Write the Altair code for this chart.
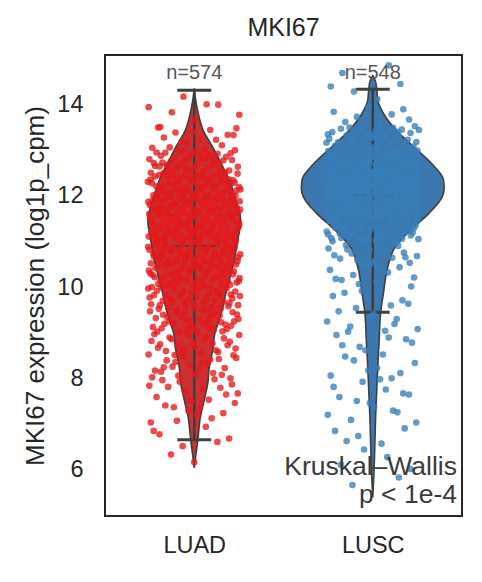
import altair as alt
import pandas as pd

# ---------------- data ----------------
groups = ["LUAD", "LUSC"]
n_counts = [574, 548]
chart_title = "MKI67"
y_title = "MKI67 expression (log1p_cpm)"
stat_lines = ["Kruskal\u2013Wallis", "p < 1e-4"]

# box summary (whisker ends and medians)
whisker_low = [6.66, 9.45]
whisker_high = [14.31, 14.33]
medians = [10.90, 12.01]

# violin outlines: value grid and relative density (1.0 = widest violin)
luad_violin_y = [6.04, 6.3, 6.66, 6.81, 7.1, 7.53, 7.9, 8.25, 8.63, 9.0, 9.28, 9.56,
                 9.85, 10.15, 10.59, 11.03, 11.46, 11.97, 12.34, 12.71, 13.06, 13.43,
                 13.80, 14.1, 14.35]
luad_violin_d = [0, 0.02, 0.05, 0.06, 0.08, 0.14, 0.19, 0.21, 0.26, 0.29, 0.35, 0.40,
                 0.44, 0.49, 0.56, 0.61, 0.65, 0.57, 0.49, 0.375, 0.26, 0.125,
                 0.056, 0.02, 0]
lusc_violin_y = [5.4, 6.07, 6.6, 7.16, 7.7, 8.25, 8.84, 9.43, 9.87, 10.44, 10.87, 11.25,
                 11.62, 11.97, 12.15, 12.35, 12.71, 13.06, 13.43, 13.80, 14.09, 14.35,
                 14.52, 14.63]
lusc_violin_d = [0, 0.02, 0.03, 0.04, 0.055, 0.07, 0.09, 0.11, 0.15, 0.21, 0.31, 0.53,
                 0.79, 0.97, 1.0, 0.99, 0.82, 0.58, 0.33, 0.15, 0.07, 0.055, 0.035, 0]

# individual samples, read as counts per 0.5-wide expression bin
luad_bin_start = 6.0
luad_bin_counts = [2, 6, 10, 14, 21, 29, 37, 48, 60, 68, 79, 74, 64, 46, 16, 6, 2]
lusc_bin_start = 5.5
lusc_bin_counts = [2, 4, 5, 7, 8, 8, 8, 10, 9, 12, 20, 60, 116, 129, 94, 40, 10, 4, 2]
bin_width = 0.5

# ---------------- styling constants ----------------
point_colors = ["#e41a1c", "#377eb8"]
violin_colors = ["#cd2f32", "#3b78b0"]
outline = "#3f3f3f"
FONT = "Liberation Sans"
MAX_HALF = 0.40      # half width (x units) of the widest violin
JITTER = 0.26        # half range of the horizontal jitter
CAP_HALF = 0.095
MED_HALF = 0.12


def halton(i, base):
    f, r = 1.0, 0.0
    while i > 0:
        f /= base
        r += f * (i % base)
        i //= base
    return r


# ---------------- tables ----------------
vrows = []
for gi, (ys, ds) in enumerate([(luad_violin_y, luad_violin_d), (lusc_violin_y, lusc_violin_d)]):
    for y, d in zip(ys, ds):
        vrows.append({"group": groups[gi], "y": y,
                      "left": gi - d * MAX_HALF, "right": gi + d * MAX_HALF})
violin_df = pd.DataFrame(vrows)

prows = []
for gi, (start, counts) in enumerate([(luad_bin_start, luad_bin_counts),
                                      (lusc_bin_start, lusc_bin_counts)]):
    idx = 0
    for bi, c in enumerate(counts):
        lo = start + bi * bin_width
        for k in range(c):
            idx += 1
            u = halton(idx + 17 * gi, 2)
            v = halton(k + 1 + 5 * bi, 3)
            prows.append({"group": groups[gi], "value": lo + v * bin_width,
                          "x": gi + (u - 0.5) * 2 * JITTER})
points_df = pd.DataFrame(prows)

box_df = pd.DataFrame({
    "group": groups,
    "x": [0, 1],
    "lo": whisker_low, "hi": whisker_high, "med": medians,
})
box_df["cap_l"] = box_df["x"] - CAP_HALF
box_df["cap_r"] = box_df["x"] + CAP_HALF
box_df["med_l"] = box_df["x"] - MED_HALF
box_df["med_r"] = box_df["x"] + MED_HALF

n_df = pd.DataFrame({"x": [0, 1], "label": [f"n={n}" for n in n_counts], "y": [14.68, 14.68]})

# ---------------- scales / axes ----------------
label_expr = f"datum.value == 0 ? '{groups[0]}' : '{groups[1]}'"
xscale = alt.Scale(domain=[-0.5, 1.5], nice=False, zero=False)
yscale = alt.Scale(domain=[4.99, 15.08], nice=False, zero=False)
xaxis = alt.Axis(values=[0, 1], labelExpr=label_expr, title=None, grid=False, ticks=False,
                 domain=False, labelFontSize=23.5, labelColor="#262626", labelPadding=17,
                 labelFont=FONT)
yaxis = alt.Axis(values=[6, 8, 10, 12, 14], title=y_title, grid=False, ticks=False,
                 domain=False, labelFontSize=23.5, labelColor="#262626", labelPadding=22,
                 labelFont=FONT, titleFont=FONT, titleFontSize=26, titleFontWeight="normal",
                 titleColor="#262626", titlePadding=8)


def X(field):
    return alt.X(field, scale=xscale, axis=xaxis)


def Y(field):
    return alt.Y(field, scale=yscale, axis=yaxis)


violin = alt.Chart(violin_df).mark_area(
    orient="horizontal", interpolate="monotone", stroke=outline, strokeWidth=1.6, opacity=1
).encode(
    y=Y("y:Q"), x=X("left:Q"), x2="right:Q",
    fill=alt.Fill("group:N", scale=alt.Scale(domain=groups, range=violin_colors), legend=None),
    detail="group:N",
)

whisker = alt.Chart(box_df).mark_rule(color=outline, strokeWidth=2.5).encode(
    x=X("x:Q"), y=Y("lo:Q"), y2="hi:Q")
cap_top = alt.Chart(box_df).mark_rule(color=outline, strokeWidth=3).encode(
    x=X("cap_l:Q"), x2="cap_r:Q", y=Y("hi:Q"))
cap_bot = alt.Chart(box_df).mark_rule(color=outline, strokeWidth=3).encode(
    x=X("cap_l:Q"), x2="cap_r:Q", y=Y("lo:Q"))
median = alt.Chart(box_df).mark_rule(color=outline, strokeWidth=2).encode(
    x=X("med_l:Q"), x2="med_r:Q", y=Y("med:Q"))

points = alt.Chart(points_df).mark_circle(size=44, opacity=0.78).encode(
    x=X("x:Q"), y=Y("value:Q"),
    color=alt.Color("group:N", scale=alt.Scale(domain=groups, range=point_colors), legend=None),
)

n_text = alt.Chart(n_df).mark_text(fontSize=20, font=FONT, color="#555555", baseline="middle").encode(
    x=X("x:Q"), y=Y("y:Q"), text="label:N")

stat1 = alt.Chart(pd.DataFrame({"t": [stat_lines[0]]})).mark_text(
    fontSize=26.5, font=FONT, color="#3a3a3a", align="right", baseline="alphabetic"
).encode(x=alt.value(352), y=alt.value(420), text="t:N")
stat2 = alt.Chart(pd.DataFrame({"t": [stat_lines[1]]})).mark_text(
    fontSize=26.5, font=FONT, color="#3a3a3a", align="right", baseline="alphabetic"
).encode(x=alt.value(352), y=alt.value(448), text="t:N")

chart = alt.layer(violin, whisker, cap_top, cap_bot, median, points, n_text, stat1, stat2).properties(
    width=357, height=461,
    title=alt.TitleParams(chart_title, font=FONT, fontSize=25, fontWeight="normal",
                          color="#262626", offset=14),
    autosize=alt.AutoSizeParams(type="none"),
    padding={"left": 97, "top": 47, "right": 12, "bottom": 58},
).configure(
    background="white",
    view=alt.ViewConfig(stroke="#262626", strokeWidth=2),
)

chart.save("out.html", embed_options={"renderer": "svg", "actions": False})
